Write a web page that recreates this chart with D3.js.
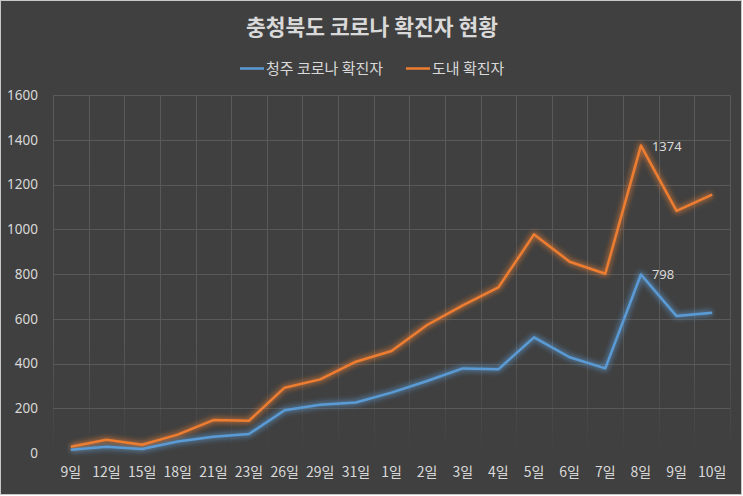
<!DOCTYPE html>
<html><head><meta charset="utf-8">
<script src="https://cdn.jsdelivr.net/npm/d3@7"></script>
<style>html,body{margin:0;padding:0;background:#ffffff;}svg{display:block;}</style>
</head><body>
<svg id="chart" width="743" height="496"></svg>
<script>
const categories = ["9일","12일","15일","18일","21일","23일","26일","29일","31일","1일","2일","3일","4일","5일","6일","7일","8일","9일","10일"];
const cheongju = [15,28,18,51,73,85,191,216,226,270,322,378,374,517,428,378,798,612,627];
const province = [28,59,37,82,147,144,292,329,408,456,572,660,740,977,855,801,1374,1082,1155];
const yTicks = [0,200,400,600,800,1000,1200,1400,1600];
const seriesNames = ["청주 코로나 확진자","도내 확진자"];
const title = "충청북도 코로나 확진자 현황";

const svg = d3.select("#chart");
const W = 743, H = 496;
const margin = {left:53, right:13, top:95, bottom:43};
const ko = "'Noto Sans CJK KR', 'Noto Sans', sans-serif";
const num = "'Noto Sans', 'Open Sans', sans-serif";
const textCol = "#d9d9d9";
const colors = ["#5b9bd5", "#ed7d31"];

svg.append("rect").attr("x",0.5).attr("y",0.5).attr("width",741).attr("height",494)
  .attr("fill","#404040").attr("stroke","#c8c8c8").attr("stroke-width",1);

const defs = svg.append("defs");
const x = d3.scaleBand().domain(categories.map((d,i)=>i)).range([margin.left, W-margin.right]).paddingInner(0).paddingOuter(0);
const y = d3.scaleLinear().domain([0,1600]).range([H-margin.bottom, margin.top]);

const grad = defs.append("linearGradient").attr("id","vfade").attr("gradientUnits","userSpaceOnUse")
  .attr("x1",0).attr("x2",0).attr("y1",y(1600)).attr("y2",y(0));
grad.append("stop").attr("offset","0%").attr("stop-color","#5a5a5a").attr("stop-opacity",1);
grad.append("stop").attr("offset","70%").attr("stop-color","#5a5a5a").attr("stop-opacity",0.9);
grad.append("stop").attr("offset","100%").attr("stop-color","#5a5a5a").attr("stop-opacity",0);

const glow = defs.append("filter").attr("id","glow").attr("x","-10%").attr("y","-10%").attr("width","120%").attr("height","120%");
glow.append("feGaussianBlur").attr("stdDeviation",2.5);

// horizontal grid
svg.append("g").selectAll("line").data(yTicks.filter(t=>t>0)).join("line")
  .attr("x1",margin.left).attr("x2",W-margin.right)
  .attr("y1",d=>Math.round(y(d))+0.5).attr("y2",d=>Math.round(y(d))+0.5)
  .attr("stroke","#595959").attr("stroke-width",1);

// vertical grid at band boundaries
const bounds = categories.map((d,i)=>x(i)).concat([x(categories.length-1)+x.bandwidth()]);
svg.append("g").selectAll("line").data(bounds).join("line")
  .attr("x1",d=>Math.round(d)+0.5).attr("x2",d=>Math.round(d)+0.5)
  .attr("y1",y(1600)).attr("y2",y(0))
  .attr("stroke","url(#vfade)").attr("stroke-width",1);

// y axis labels
const yAxis = d3.axisLeft(y).tickValues(yTicks).tickFormat(d3.format("d")).tickSize(0).tickPadding(15);
const ya = svg.append("g").attr("transform",`translate(${margin.left},0)`).call(yAxis);
ya.select(".domain").remove();
ya.selectAll("text").attr("fill",textCol).attr("font-family",num).attr("font-size",13.5);

// x axis labels
const xAxis = d3.axisBottom(x).tickFormat(i=>categories[i]).tickSize(0).tickPadding(14);
const xa = svg.append("g").attr("transform",`translate(0,${y(0)})`).call(xAxis);
xa.select(".domain").remove();
xa.selectAll("text").attr("fill",textCol).attr("font-family",ko).attr("font-size",14);

const line = d3.line().x((d,i)=>x(i)+x.bandwidth()/2).y(d=>y(d));
const series = [cheongju, province];
series.forEach((s,k)=>{
  svg.append("path").attr("d",line(s)).attr("fill","none").attr("stroke",colors[k])
    .attr("stroke-width",6).attr("stroke-opacity",0.55).attr("stroke-linejoin","round").attr("filter","url(#glow)");
});
series.forEach((s,k)=>{
  svg.append("path").attr("d",line(s)).attr("fill","none").attr("stroke",colors[k])
    .attr("stroke-width",2.5).attr("stroke-linejoin","round");
});

// data labels at peak
series.forEach((s,k)=>{
  const mi = d3.maxIndex(s);
  svg.append("text").attr("x",x(mi)+x.bandwidth()/2+11).attr("y",y(s[mi])+5)
    .attr("fill",textCol).attr("font-family",num).attr("font-size",13).text(s[mi]);
});

// title
svg.append("text").attr("x",372).attr("y",35).attr("text-anchor","middle")
  .attr("fill",textCol).attr("font-family",ko).attr("font-weight","bold").attr("font-size",21.5).text(title);

// legend
const legX = [240, 406];
seriesNames.forEach((n,k)=>{
  svg.append("line").attr("x1",legX[k]).attr("x2",legX[k]+24).attr("y1",68.5).attr("y2",68.5)
    .attr("stroke",colors[k]).attr("stroke-width",2.5);
  svg.append("text").attr("x",legX[k]+26).attr("y",73.5).attr("fill",textCol)
    .attr("font-family",ko).attr("font-size",15).text(n);
});
</script>
</body></html>
